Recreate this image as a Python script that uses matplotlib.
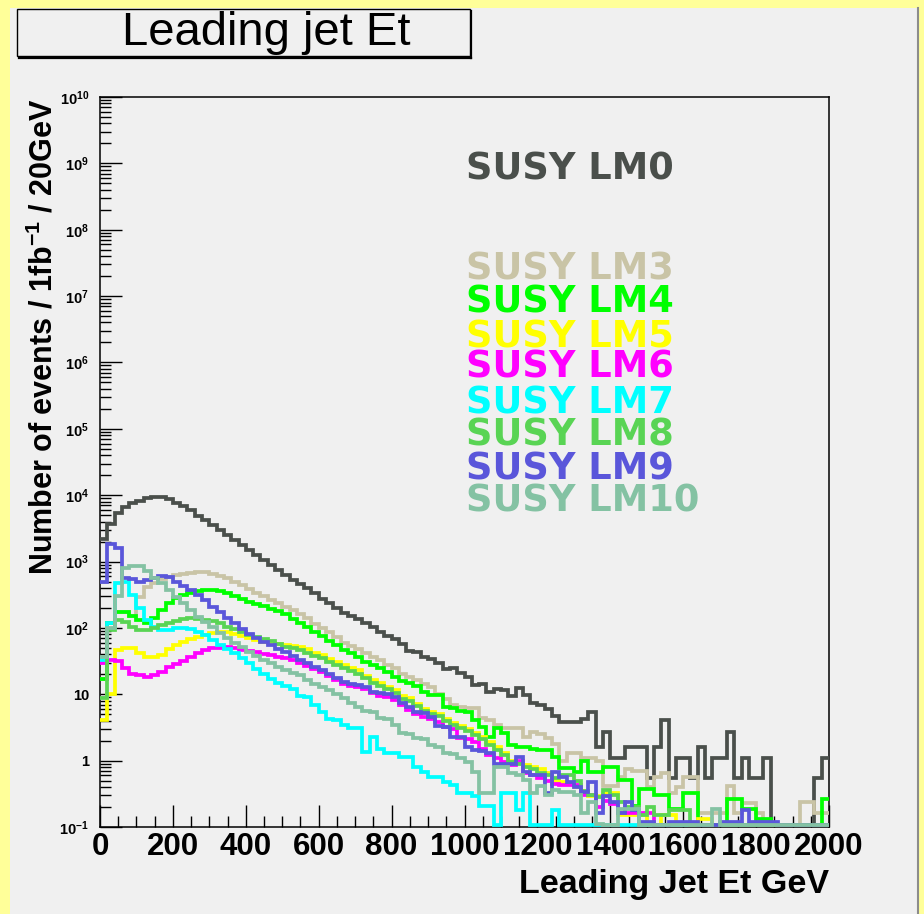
import matplotlib
matplotlib.use("Agg")
import matplotlib.pyplot as plt
import numpy as np
from matplotlib.patches import Rectangle
from matplotlib.lines import Line2D

# leading jet Et, 100 bins of 20 GeV from 0 to 2000 GeV (events / 1fb^-1)
bin_edges = np.linspace(0, 2000, 101)

lm0 = [2200, 3700, 5400, 6600, 7600, 8300, 9000, 9500, 9300, 8700,
       7700, 6900, 5900, 4900, 4300, 3550, 2950, 2500, 2100, 1780,
       1490, 1250, 1050, 890, 740, 620, 520, 460, 400, 330,
       270, 235, 200, 170, 150, 135, 120, 105, 88, 76,
       69, 58, 45, 43, 36, 34, 30, 24, 25, 21,
       18, 14, 14.5, 11, 12, 11.5, 9.5, 12.5, 9.7, 7.3,
       7.0, 6.0, 4.7, 3.8, 3.8, 3.8, 4.3, 5.4, 1.62, 2.7,
       1.08, 1.08, 1.62, 1.62, 1.62, 0.54, 1.62, 4.1, 0.54, 1.08,
       1.08, 0.54, 1.62, 0.54, 1.08, 1.08, 2.7, 0.54, 1.08, 0.54,
       0.54, 1.08, 0, 0, 0, 0, 0, 0, 0.54, 1.08]

lm3 = [17, 120, 175, 175, 150, 295, 410, 480, 540, 580,
       620, 650, 680, 700, 700, 660, 610, 560, 500, 440,
       390, 340, 300, 265, 235, 210, 186, 160, 140, 115,
       100, 86, 72, 60, 53, 48, 42, 36, 33, 28,
       24.5, 20, 18, 16.3, 14.5, 13, 10, 8.5, 7, 6.5,
       6.2, 6.2, 4.4, 4.1, 3.5, 3.1, 3.1, 3.1, 2.3, 2.7,
       2.5, 2.2, 1.8, 1.0, 1.3, 1.3, 1.08, 1.08, 1.0, 0.41,
       0.41, 0.57, 0.76, 0.7, 0.7, 0.4, 0.57, 0.65, 0.32, 0.4,
       0.57, 0.57, 0.16, 0.16, 0.16, 0.16, 0.41, 0.16, 0.23, 0.23,
       0.16, 0, 0, 0, 0, 0, 0.24, 0.24, 0.16, 0.16]

lm4 = [17, 120, 175, 175, 150, 132, 118, 140, 187, 235,
       280, 315, 330, 360, 375, 370, 360, 335, 300, 275,
       250, 228, 212, 195, 180, 162, 135, 118, 105, 88,
       76, 64, 56, 47, 42, 36, 31, 28, 25, 22,
       18.5, 16, 15, 13.5, 11, 9.8, 9.8, 6.5, 6.2, 5.6,
       5.4, 4.1, 3.2, 2.3, 3.1, 2.6, 1.7, 1.6, 1.6, 1.5,
       1.45, 1.45, 1.15, 0.77, 0.77, 0.68, 1.0, 0.68, 0.68, 0.81,
       0.81, 0.51, 0.51, 0.21, 0.38, 0.38, 0.3, 0.3, 0.19, 0.19,
       0.32, 0.32, 0, 0, 0, 0, 0.26, 0.26, 0.19, 0.19,
       0.13, 0.13, 0, 0, 0, 0, 0, 0, 0, 0.26]

lm5 = [4.1, 10, 47, 49, 49, 42, 37, 37, 39, 48,
       55, 62, 69, 74, 78, 83, 88, 88, 82, 76,
       70, 66, 62, 59, 57, 55, 53, 51, 48, 42,
       39, 34, 31, 27.5, 25, 23, 19, 16.5, 15, 13,
       11.5, 9.5, 8.7, 7.2, 6.1, 5.4, 5.0, 4.3, 3.7, 3.3,
       3.0, 2.6, 2.3, 1.9, 1.6, 1.3, 1.0, 0.95, 0.85, 0.8,
       0.75, 0.65, 0.5, 0.48, 0.45, 0.4, 0.35, 0.29, 0.29, 0.32,
       0.32, 0.15, 0.15, 0.15, 0.15, 0, 0, 0.15, 0.15, 0,
       0, 0, 0.13, 0.13, 0, 0, 0, 0, 0, 0,
       0, 0, 0, 0, 0, 0, 0, 0, 0, 0]

lm6 = [30, 33, 32, 25, 20.5, 19.5, 18.3, 19.5, 21.7, 26,
       29, 32, 37, 41.5, 46, 49, 50, 51, 50, 47,
       45, 43, 41, 39, 37, 35, 33, 30, 27, 24,
       21.5, 19, 16.5, 14.5, 13.5, 13, 12, 10.3, 9.5, 9.2,
       8.3, 6.8, 5.8, 5.1, 4.6, 4.3, 3.8, 3.2, 3.0, 2.2,
       2.1, 1.9, 1.5, 1.2, 1.1, 0.95, 0.85, 1.0, 0.65, 0.6,
       0.54, 0.5, 0.45, 0.43, 0.43, 0.43, 0.3, 0.3, 0.2, 0.25,
       0.22, 0.16, 0.16, 0.16, 0.16, 0.16, 0, 0, 0, 0,
       0, 0, 0, 0, 0, 0, 0, 0, 0, 0,
       0, 0, 0, 0, 0, 0, 0, 0, 0, 0]

lm7 = [33, 120, 470, 500, 315, 197, 132, 104, 93, 93,
       100, 100, 97, 87, 78, 66, 55, 48, 41.5, 35,
       29.5, 24, 20, 17, 15, 13.5, 12, 9.5, 9.0, 6.9,
       5.5, 4.2, 4.1, 3.5, 3.1, 3.1, 1.35, 2.3, 1.5, 1.3,
       1.3, 1.15, 1.15, 0.81, 0.68, 0.57, 0.57, 0.48, 0.43, 0.32,
       0.32, 0.29, 0.21, 0.21, 0, 0.32, 0.32, 0.18, 0.32, 0,
       0, 0, 0.18, 0, 0, 0, 0, 0, 0, 0,
       0, 0, 0, 0, 0, 0, 0, 0, 0, 0,
       0, 0, 0, 0, 0, 0, 0, 0, 0, 0,
       0, 0, 0, 0, 0, 0, 0, 0, 0, 0]

lm8 = [8.7, 93, 130, 124, 105, 93, 93, 100, 110, 120,
       128, 135, 139, 136, 132, 125, 118, 105, 95, 86,
       79, 73, 68, 63, 58, 52, 49, 46, 42, 38,
       35, 31, 28, 25, 22.5, 20.5, 17.5, 15, 13.5, 12,
       10.5, 8.5, 8, 6.7, 5.6, 5.1, 4.7, 4.0, 3.4, 3.1,
       2.8, 2.4, 2.1, 1.7, 1.45, 1.2, 0.95, 0.9, 0.8, 0.75,
       0.65, 0.6, 0.55, 0.6, 0.6, 0.5, 0.35, 0.3, 0.28, 0.36,
       0.3, 0.24, 0.2, 0.2, 0.15, 0.2, 0.15, 0.15, 0.18, 0.18,
       0.18, 0, 0, 0, 0, 0, 0, 0, 0, 0,
       0, 0, 0, 0, 0, 0, 0, 0, 0, 0]

lm9 = [500, 1870, 1580, 560, 540, 500, 525, 560, 600, 575,
       500, 430, 375, 315, 265, 210, 175, 140, 117, 95,
       80, 70, 62, 55, 48, 43, 38, 33, 29.5, 26,
       23, 20.5, 17.5, 15.5, 14.5, 14, 13, 11, 10.3, 10,
       9, 7.5, 6.5, 5.5, 5.2, 4.6, 3.3, 3.2, 2.3, 2.3,
       1.6, 1.45, 1.4, 1.3, 0.9, 0.9, 0.9, 1.15, 0.68, 0.6,
       0.6, 0.32, 0.68, 0.57, 0.48, 0.4, 0.34, 0.48, 0.16, 0.29,
       0.24, 0.16, 0.24, 0.18, 0.12, 0.12, 0, 0, 0.12, 0.12,
       0.12, 0.12, 0, 0, 0, 0.12, 0.12, 0.12, 0.18, 0.12,
       0.12, 0.12, 0.12, 0, 0, 0, 0, 0, 0, 0]

lm10 = [37, 100, 300, 800, 870, 860, 720, 570, 470, 375,
        295, 235, 187, 145, 123, 104, 85, 71, 60, 52,
        44, 38, 33, 29.5, 26, 23, 21, 19.5, 16.5, 14.5,
        13, 11.5, 10.2, 8.7, 7.3, 6.5, 5.6, 5.4, 4.4, 4.3,
        3.5, 2.6, 2.5, 2.2, 2.1, 1.7, 1.6, 1.3, 1.25, 1.08,
        0.96, 0.68, 0.32, 0.32, 0.81, 0.81, 0.64, 0.6, 0.51, 0.32,
        0.41, 0.3, 0.36, 0.34, 0.34, 0.3, 0.16, 0.24, 0.11, 0,
        0, 0.19, 0.19, 0.19, 0, 0, 0, 0, 0, 0,
        0, 0, 0, 0, 0.19, 0, 0, 0, 0, 0,
        0, 0, 0, 0, 0, 0, 0, 0, 0, 0]

names = ['SUSY LM0', 'SUSY LM3', 'SUSY LM4', 'SUSY LM5', 'SUSY LM6',
         'SUSY LM7', 'SUSY LM8', 'SUSY LM9', 'SUSY LM10']
series = [lm0, lm3, lm4, lm5, lm6, lm7, lm8, lm9, lm10]
colors = ['#4a4f4b', '#c9c4a6', '#00ff00', '#ffff00', '#ff00ff',
          '#00ffff', '#59d454', '#5a56da', '#84c2a3']
# legend text baselines (pixels from top of canvas)
label_rows = [180, 280, 313, 347, 378, 413, 445, 480, 512]

W, H = 924, 914


def fx(px):
    return px / W


def fy(py):
    return 1 - py / H


fig = plt.figure(figsize=(W / 100, H / 100), dpi=100, facecolor='#ffff99')

# canvas panel, kept behind the axes
fig.patches.append(Rectangle((fx(10), 0), fx(917) - fx(10), fy(8), transform=fig.transFigure,
                             facecolor='#f0f0f0', edgecolor='none', zorder=-10))
fig.lines.append(Line2D([fx(917.5), fx(917.5)], [0, fy(8)], transform=fig.transFigure,
                        color='#8c8c8c', lw=1.5, zorder=-9))

# title box with shadow
fig.patches.append(Rectangle((fx(17), fy(56)), fx(470) - fx(17), fy(9) - fy(56),
                             transform=fig.transFigure, facecolor='#f0f0f0',
                             edgecolor='black', lw=1, zorder=2))
fig.lines.append(Line2D([fx(471), fx(471)], [fy(11), fy(57.5)], transform=fig.transFigure,
                        color='black', lw=1.6, zorder=2))
fig.lines.append(Line2D([fx(19), fx(471)], [fy(57.5), fy(57.5)], transform=fig.transFigure,
                        color='black', lw=1.6, zorder=2))
fig.text(fx(266), fy(45), 'Leading jet Et', ha='center', va='baseline',
         fontsize=34, family='Liberation Sans', zorder=3)

ax = fig.add_axes([fx(100), fy(827), fx(829) - fx(100), fy(97) - fy(827)])
ax.set_facecolor('#f0f0f0')

floor = 0.1055  # empty bins are drawn along the bottom of the frame
for vals, c in zip(series, colors):
    ax.stairs(np.maximum(np.asarray(vals, dtype=float), floor), bin_edges,
              color=c, lw=2.7, baseline=None, zorder=3)

ax.set_yscale('log')
ax.set_xlim(0, 2000)
ax.set_ylim(0.1, 1e10)

ax.set_xticks(np.arange(0, 2001, 200))
ax.set_xticks(np.arange(0, 2001, 50), minor=True)
ax.set_xticklabels([str(v) for v in range(0, 2001, 200)], fontsize=22.5,
                   fontweight='bold', family='Liberation Sans')

decades = np.arange(-1, 11)
ylabels = []
for k in decades:
    if k == 0:
        ylabels.append('1')
    elif k == 1:
        ylabels.append('10')
    else:
        ylabels.append(rf'$\mathregular{{10^{{{k}}}}}$')
ax.set_yticks(10.0 ** decades)
ax.yaxis.set_minor_locator(matplotlib.ticker.LogLocator(base=10, subs=np.arange(2, 10), numticks=30))
ax.yaxis.set_minor_formatter(matplotlib.ticker.NullFormatter())
ax.set_yticklabels(ylabels, fontsize=10.5, fontweight='bold', family='Liberation Sans')

ax.tick_params(axis='both', which='both', direction='in', top=False, right=False, width=1)
ax.tick_params(axis='both', which='major', length=16)
ax.tick_params(axis='both', which='minor', length=8)
ax.tick_params(axis='x', which='major', pad=3.5)
ax.tick_params(axis='y', which='major', pad=8)
for sp in ax.spines.values():
    sp.set_linewidth(1.1)

fig.text(fx(829), fy(893), 'Leading Jet Et GeV', ha='right', va='baseline',
         fontsize=24.5, fontweight='bold', family='Liberation Sans')
fig.text(fx(44), fy(337), r'Number of events / 1fb$^{\mathregular{-1}}$ / 20GeV',
         rotation=90, ha='center', va='center', fontsize=22, fontweight='bold',
         family='Liberation Sans')

for name, c, row in zip(names, colors, label_rows):
    fig.text(fx(466), fy(row), name, color=c, ha='left', va='baseline',
             fontsize=26.5, fontweight='bold', family='DejaVu Sans')

fig.savefig('out.png', dpi=100, facecolor=fig.get_facecolor())
